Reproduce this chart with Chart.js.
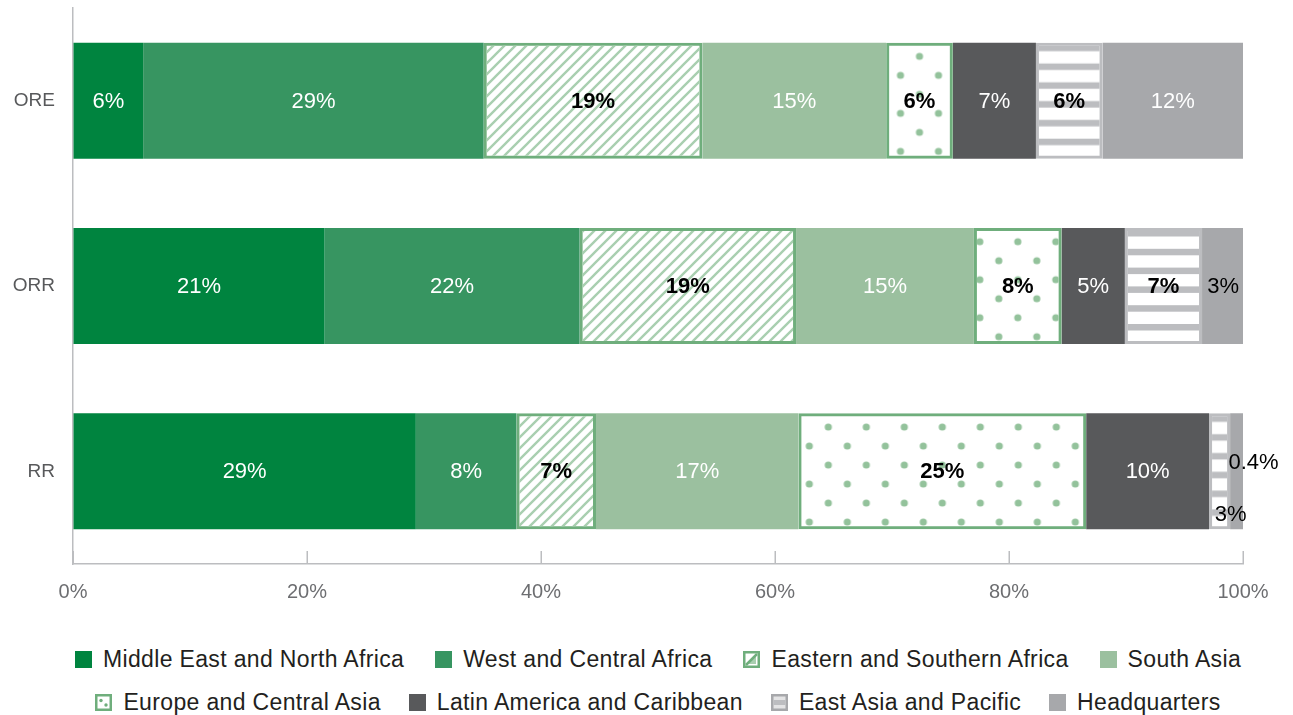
<!DOCTYPE html>
<html>
<head>
<meta charset="utf-8">
<script src="https://cdn.jsdelivr.net/npm/chart.js@4"></script>
<style>
    body { margin: 0; background: #fff; font-family: 'Liberation Sans', Arial, sans-serif; }
    #wrap { position: relative; width: 1293px; height: 715px; }
    #chart { position: absolute; left: 0; top: 0; }
    .legend-row { position: absolute; left: 73px; width: 1170px; height: 28px; display: flex; justify-content: center; align-items: center; }
    .legend-item { display: flex; align-items: center; font-size: 23px; letter-spacing: 0.35px; color: #231f20; white-space: nowrap; }
    .legend-item svg { margin-right: 11px; flex: none; }
</style>
</head>
<body>
<div id="wrap">
    <canvas id="chart" width="1293" height="620"></canvas>
    <div class="legend-row" id="row1" style="top:645px; column-gap:31px"></div>
    <div class="legend-row" id="row2" style="top:688px; column-gap:28px"></div>
</div>
<script>
const categories = ['ORE', 'ORR', 'RR'];
const regions = [
    'Middle East and North Africa', 'West and Central Africa', 'Eastern and Southern Africa', 'South Asia',
    'Europe and Central Asia', 'Latin America and Caribbean', 'East Asia and Pacific', 'Headquarters'
];

// bar widths (share of total, %)
const oreValues = [6.0, 29.1, 18.7, 15.7, 5.7, 7.1, 5.7, 12.0];
const orrValues = [21.5, 21.8, 18.5, 15.2, 7.5, 5.4, 6.6, 3.6];
const rrValues = [29.3, 8.6, 6.8, 17.3, 24.6, 10.5, 1.8, 1.1];

// printed labels
const oreText = ['6%', '29%', '19%', '15%', '6%', '7%', '6%', '12%'];
const orrText = ['21%', '22%', '19%', '15%', '8%', '5%', '7%', '3%'];
const rrText = ['29%', '8%', '7%', '17%', '25%', '10%', '3%', '0.4%'];

const xTicks = [0, 20, 40, 60, 80, 100];

const allValues = [oreValues, orrValues, rrValues];
const allText = [oreText, orrText, rrText];

const canvas = document.getElementById('chart');
const ctx = canvas.getContext('2d');

const PAT_GREEN = '#6fae7c';
const LIGHT_GREEN = '#a9cfb0';
const STRIPE_GREY = '#bcbdc0';
const barPct = 0.626;

// diagonal hatch
const hatchTile = document.createElement('canvas');
hatchTile.width = 11; hatchTile.height = 11;
(function () {
    const t = hatchTile.getContext('2d');
    t.strokeStyle = LIGHT_GREEN;
    t.lineWidth = 2.4;
    t.beginPath();
    t.moveTo(-2, 13); t.lineTo(13, -2);
    t.moveTo(-3, 3); t.lineTo(3, -3);
    t.moveTo(8, 14); t.lineTo(14, 8);
    t.stroke();
})();
const hatchPattern = ctx.createPattern(hatchTile, 'repeat');

// dots
const dotTile = document.createElement('canvas');
dotTile.width = 38; dotTile.height = 38;
(function () {
    const t = dotTile.getContext('2d');
    t.fillStyle = '#93c29b';
    [[0, 0], [38, 0], [0, 38], [38, 38], [19, 19]].forEach(p => {
        t.beginPath();
        t.arc(p[0], p[1], 3.6, 0, Math.PI * 2);
        t.fill();
    });
})();

// horizontal stripes
const stripeTile = document.createElement('canvas');
stripeTile.width = 4; stripeTile.height = 94;
(function () {
    const t = stripeTile.getContext('2d');
    t.fillStyle = STRIPE_GREY;
    for (let k = 0; k < 5; k++) {
        t.fillRect(0, k * 18.8, 4, 6.5);
    }
})();

function barGeometry(chart, datasetIndex, dataIndex) {
    const vals = allValues[dataIndex];
    let start = 0;
    for (let i = 0; i < datasetIndex; i++) start += vals[i];
    const xs = chart.scales.x;
    const ys = chart.scales.y;
    const cx = xs.getPixelForValue(start + vals[datasetIndex] / 2);
    const cy = ys.getPixelForValue(dataIndex);
    const half = (ys.height / categories.length) * barPct / 2;
    return { cx: cx, top: cy - half };
}

function dotFill(c) {
    if (c.type !== 'data') return '#fff';
    const g = barGeometry(c.chart, c.datasetIndex, c.dataIndex);
    const p = ctx.createPattern(dotTile, 'repeat');
    p.setTransform(new DOMMatrix().translate(g.cx, g.top + 13.7));
    return p;
}

function stripeFill(c) {
    if (c.type !== 'data') return '#fff';
    const g = barGeometry(c.chart, c.datasetIndex, c.dataIndex);
    const p = ctx.createPattern(stripeTile, 'repeat');
    p.setTransform(new DOMMatrix().translate(0, g.top + 2));
    return p;
}

const fills = ['#00843f', '#379561', hatchPattern, '#9bc09f', dotFill, '#58595b', stripeFill, '#a7a8ab'];
const borders = [null, null, PAT_GREEN, null, PAT_GREEN, null, STRIPE_GREY, null];
const patterned = [false, false, true, false, true, false, true, false];

const datasets = regions.map((name, i) => ({
    label: name,
    data: allValues.map(v => v[i]),
    backgroundColor: fills[i],
    borderColor: borders[i] || 'rgba(0,0,0,0)',
    borderWidth: borders[i] ? 3 : 0,
    borderSkipped: false,
    barPercentage: barPct,
    categoryPercentage: 1
}));

// label tweaks for the narrow RR / ORR segments
const labelTweaks = {
    '7,1': { color: '#000', bold: false },
    '6,2': { color: '#000', bold: false, dx: 11, dy: 43 },
    '7,2': { color: '#000', bold: false, dx: 17, dy: -9 }
};

const labelPlugin = {
    id: 'barLabels',
    afterDatasetsDraw(chart) {
        const c = chart.ctx;
        c.save();
        c.textAlign = 'center';
        c.textBaseline = 'middle';
        chart.data.datasets.forEach((ds, i) => {
            chart.getDatasetMeta(i).data.forEach((bar, j) => {
                const tw = labelTweaks[i + ',' + j] || {};
                const bold = tw.bold !== undefined ? tw.bold : patterned[i];
                const color = tw.color || (patterned[i] ? '#000' : '#fff');
                c.font = (bold ? 'bold ' : '') + '22px "Liberation Sans", Arial, sans-serif';
                c.fillStyle = color;
                const x = (bar.x + bar.base) / 2 + (tw.dx || 0);
                const y = bar.y + 1 + (tw.dy || 0);
                c.fillText(allText[j][i], x, y);
            });
        });
        c.restore();
    }
};

// small upward tick marks on the x axis
const tickPlugin = {
    id: 'xTickMarks',
    afterDraw(chart) {
        const c = chart.ctx;
        const xs = chart.scales.x;
        const bottom = chart.chartArea.bottom;
        c.save();
        c.strokeStyle = '#bcbdc0';
        c.lineWidth = 1.5;
        xTicks.forEach(v => {
            const x = Math.round(xs.getPixelForValue(v)) + 0.25;
            c.beginPath();
            c.moveTo(x, bottom - 13);
            c.lineTo(x, bottom);
            c.stroke();
        });
        c.restore();
    }
};

new Chart(canvas, {
    type: 'bar',
    data: { labels: categories, datasets: datasets },
    options: {
        indexAxis: 'y',
        responsive: false,
        animation: false,
        layout: { autoPadding: false, padding: { top: 8, right: 50, left: 0, bottom: 0 } },
        plugins: { legend: { display: false }, tooltip: { enabled: false } },
        scales: {
            x: {
                stacked: true,
                min: 0,
                max: 100,
                afterBuildTicks: s => { s.ticks = xTicks.map(v => ({ value: v })); },
                ticks: {
                    callback: v => v + '%',
                    padding: 16,
                    color: '#6d6e71',
                    font: { family: '"Liberation Sans", Arial, sans-serif', size: 20 }
                },
                grid: { drawOnChartArea: false, drawTicks: false },
                border: { color: '#bcbdc0', width: 1.5 },
                afterFit: s => {
                    s.height = 56;
                    s.paddingLeft = 0; s.paddingRight = 0; s.paddingTop = 0; s.paddingBottom = 0;
                }
            },
            y: {
                stacked: true,
                ticks: {
                    padding: 18,
                    color: '#58595b',
                    font: { family: '"Liberation Sans", Arial, sans-serif', size: 19 }
                },
                grid: { drawOnChartArea: false, drawTicks: false },
                border: { color: '#bcbdc0', width: 1.5 },
                afterFit: s => {
                    s.width = 73;
                    s.paddingLeft = 0; s.paddingRight = 0; s.paddingTop = 0; s.paddingBottom = 0;
                }
            }
        }
    },
    plugins: [labelPlugin, tickPlugin]
});

// legend
function legendIcon(i) {
    const s = '<svg width="17" height="17" viewBox="0 0 17 17">';
    if (i === 2) {
        return s + '<rect x="1.25" y="1.25" width="14.5" height="14.5" fill="#fff" stroke="' + PAT_GREEN + '" stroke-width="2.5"/>' +
            '<polygon points="4,13 13,4 13,13" fill="' + LIGHT_GREEN + '"/>' +
            '<line x1="3" y1="14" x2="14" y2="3" stroke="' + PAT_GREEN + '" stroke-width="2.5"/></svg>';
    }
    if (i === 4) {
        return s + '<rect x="1.25" y="1.25" width="14.5" height="14.5" fill="#fff" stroke="' + PAT_GREEN + '" stroke-width="2.5"/>' +
            '<circle cx="6" cy="6.5" r="1.7" fill="' + PAT_GREEN + '"/><circle cx="11" cy="11" r="1.7" fill="' + PAT_GREEN + '"/></svg>';
    }
    if (i === 6) {
        return s + '<rect x="1.25" y="1.25" width="14.5" height="14.5" fill="#e4e4e5" stroke="#a7a8ab" stroke-width="2.5"/>' +
            '<rect x="2.5" y="6" width="12" height="5" fill="' + STRIPE_GREY + '"/></svg>';
    }
    return s + '<rect width="17" height="17" fill="' + fills[i] + '"/></svg>';
}

regions.forEach((name, i) => {
    const item = document.createElement('div');
    item.className = 'legend-item';
    item.innerHTML = legendIcon(i) + '<span>' + name + '</span>';
    document.getElementById(i < 4 ? 'row1' : 'row2').appendChild(item);
});
</script>
</body>
</html>
